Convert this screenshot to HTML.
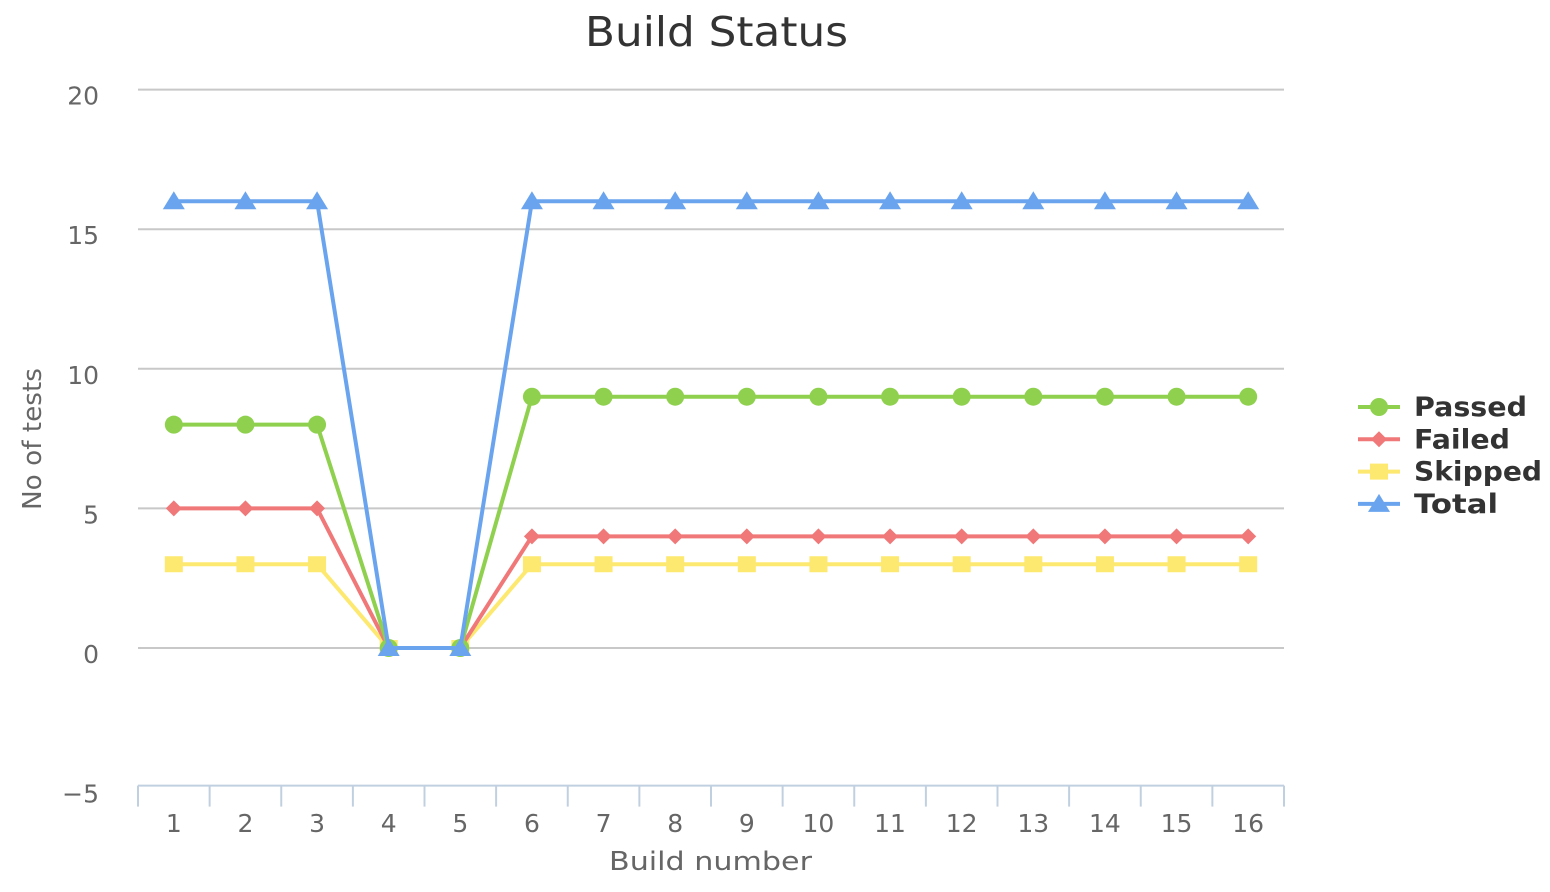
<!DOCTYPE html>
<html><head><meta charset="utf-8">
<style>
html,body{margin:0;padding:0;background:#fff;}
svg{display:block;font-family:"DejaVu Sans","Liberation Sans",sans-serif;}
</style></head>
<body>
<svg id="chart" width="1550" height="892" viewBox="0 0 1550 892">
<text x="585" y="46" font-size="41" fill="#333" textLength="263" lengthAdjust="spacingAndGlyphs">Build Status</text>
<g id="grid"></g>
<g id="xaxis"></g>
<g id="yaxis"></g>
<text x="609" y="870" font-size="26" fill="#666" textLength="203" lengthAdjust="spacingAndGlyphs">Build number</text>
<text transform="translate(41,510) rotate(-90)" font-size="26" fill="#666" textLength="142" lengthAdjust="spacingAndGlyphs">No of tests</text>
<g id="series"></g>
<g id="legend"></g>
</svg>
<script>
const categories = ["1","2","3","4","5","6","7","8","9","10","11","12","13","14","15","16"];
const passed  = [8,8,8,0,0,9,9,9,9,9,9,9,9,9,9,9];
const failed  = [5,5,5,0,0,4,4,4,4,4,4,4,4,4,4,4];
const skipped = [3,3,3,0,0,3,3,3,3,3,3,3,3,3,3,3];
const total   = [16,16,16,0,0,16,16,16,16,16,16,16,16,16,16,16];
const yTicks = [-5,0,5,10,15,20];
const seriesNames = ["Passed","Failed","Skipped","Total"];

const NS="http://www.w3.org/2000/svg";
const L=138,R=1284,Y0=648,PER=27.92;
const bw=(R-L)/categories.length;
const xs=i=>L+bw*(i+0.5);
const ys=v=>Y0-v*PER;
function mk(t,a,p){const e=document.createElementNS(NS,t);for(const k in a)e.setAttribute(k,a[k]);p.appendChild(e);return e;}
const grid=document.getElementById('grid'),yax=document.getElementById('yaxis'),xax=document.getElementById('xaxis');
yTicks.forEach(v=>{
  if(v>-5){const g=mk('line',{x1:L,x2:R,y1:ys(v),y2:ys(v),stroke:'#c8c8c8','stroke-width':2},grid);
  
  }
  const t=mk('text',{x:99,y:ys(v)+15,'text-anchor':'end','font-size':25,fill:'#666'},yax);
  t.textContent=v<0?'\u2212'+Math.abs(v):v;
  
  
});
const ay=ys(-5)-2;
const al=mk('line',{x1:L,x2:R,y1:ay,y2:ay,stroke:'#c0d0e0','stroke-width':2},xax);


for(let i=0;i<=categories.length;i++){
  const x=L+bw*i;
  const tk=mk('line',{x1:x,x2:x,y1:ay,y2:ay+21,stroke:'#c0d0e0','stroke-width':2},xax);
  
  
}
categories.forEach((c,i)=>{
  const t=mk('text',{x:xs(i),y:832,'text-anchor':'middle','font-size':25,fill:'#666'},xax);
  t.textContent=c;
  
  
});
function marker(shape,x,y,col,p){
  let e;
  if(shape==='circle')e=mk('circle',{cx:x,cy:y,r:9,fill:col},p);
  else if(shape==='diamond')e=mk('path',{d:`M${x} ${y-8}L${x+8} ${y}L${x} ${y+8}L${x-8} ${y}Z`,fill:col},p);
  else if(shape==='square')e=mk('rect',{x:x-9,y:y-8,width:18,height:16,fill:col},p);
  else e=mk('path',{d:`M${x} ${y-10}L${x+11} ${y+8}L${x-11} ${y+8}Z`,fill:col},p);
  return e;
}
const defs=[
  {name:'Skipped',data:skipped,col:'#fde870',shape:'square'},
  {name:'Failed',data:failed,col:'#f07878',shape:'diamond'},
  {name:'Passed',data:passed,col:'#8fd14f',shape:'circle'},
  {name:'Total',data:total,col:'#6aa4ee',shape:'triangle'}
];
const sg=document.getElementById('series');
defs.forEach(s=>{
  const g=mk('g',{},sg);
  
  
  const ln=mk('polyline',{points:s.data.map((v,i)=>xs(i)+','+ys(v)).join(' '),fill:'none',stroke:s.col,'stroke-width':4,'stroke-linejoin':'round'},g);
  
  
  s.data.forEach((v,i)=>{
    const m=marker(s.shape,xs(i),ys(v),s.col,g);
    
    
  });
});
const lg=document.getElementById('legend');
const order={Passed:defs[2],Failed:defs[1],Skipped:defs[0],Total:defs[3]};
const legW={Passed:113,Failed:96,Skipped:128,Total:84};
seriesNames.forEach((n,k)=>{
  const s=order[n];const y=407+k*32.3;
  const g=mk('g',{},lg);
  
  
  mk('line',{x1:1358,x2:1400,y1:y,y2:y,stroke:s.col,'stroke-width':4},g);
  marker(s.shape,1379,y,s.col,g);
  const t=mk('text',{x:1414,y:y+9,'font-size':27,'font-weight':'bold',fill:'#333',textLength:legW[n],lengthAdjust:'spacingAndGlyphs'},g);
  t.textContent=n;
});
</script>
</body></html>
